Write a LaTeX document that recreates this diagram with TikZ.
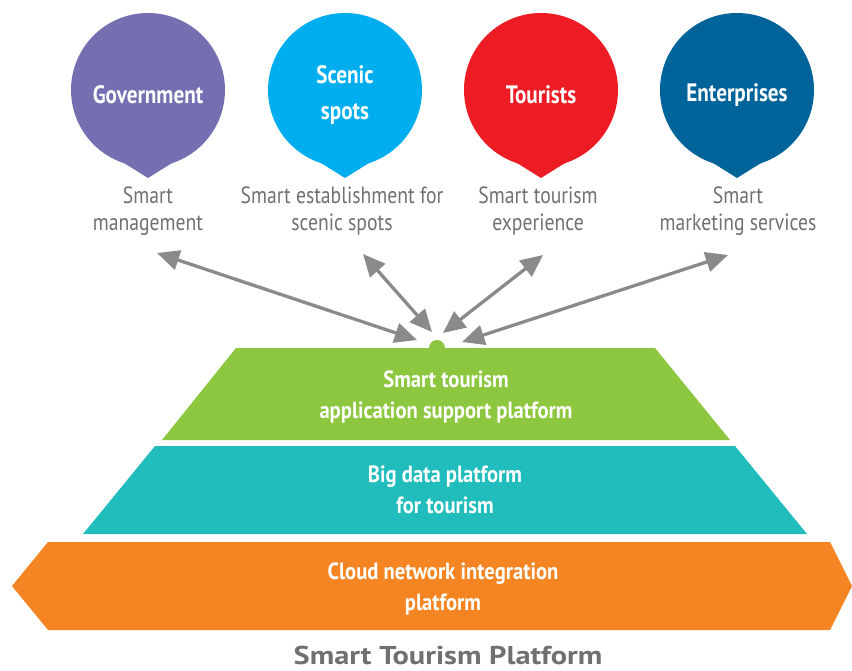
\documentclass[tikz,border=0pt]{standalone}
\usepackage{fontspec}
\setmainfont{PT Sans}
\newfontfamily\condfont[FakeStretch=0.84]{PT Sans}
\newfontfamily\layerfont[FakeStretch=0.88]{PT Sans}
\newfontfamily\widefont[FakeStretch=1.18]{PT Sans}
\usetikzlibrary{arrows.meta}

\definecolor{govpurple}{HTML}{736FB0}
\definecolor{scenicblue}{HTML}{00AEEF}
\definecolor{touristred}{HTML}{ED1C24}
\definecolor{entblue}{HTML}{00649A}
\definecolor{appgreen}{HTML}{8DC63F}
\definecolor{datateal}{HTML}{21BCBC}
\definecolor{cloudorange}{HTML}{F58523}
\definecolor{textgray}{HTML}{707070}
\definecolor{arrowgray}{HTML}{8A8A8A}

\tikzset{
  pintext/.style={text=white, font=\condfont\bfseries\fontsize{21.5}{30}\selectfont, align=center},
  roletext/.style={text=textgray, font=\condfont\fontsize{20}{23}\selectfont, align=center},
  layertext/.style={text=white, font=\layerfont\bfseries\fontsize{20}{26}\selectfont, align=center},
  link/.style={draw=arrowgray, line width=2.8pt, {Triangle[length=19pt,width=17pt]}-{Triangle[length=19pt,width=17pt]}}
}

\begin{document}
\begin{tikzpicture}[x=0.03cm, y=-0.03cm]
\useasboundingbox (0,0) rectangle (852,670);

% pins
\fill[govpurple] (148,90) circle (77);
\fill[govpurple] (148,178) -- (196,148) -- (100,148) -- cycle;
\fill[scenicblue] (345,90) circle (77);
\fill[scenicblue] (345,178) -- (393,148) -- (297,148) -- cycle;
\fill[touristred] (541,90) circle (77);
\fill[touristred] (541,178) -- (589,148) -- (493,148) -- cycle;
\fill[entblue] (737,90) circle (77);
\fill[entblue] (737,178) -- (785,148) -- (689,148) -- cycle;

\node[pintext] (gov) at (148,95) {Government};
\node[pintext] (scenic) at (345,95) {Scenic\\spots};
\node[pintext] (tourist) at (541,95) {Tourists};
\node[pintext] (ent) at (737,95) {Enterprises};

\node[roletext] (govrole) at (148,211) {Smart\\management};
\node[roletext] (scenicrole) at (342,211) {Smart establishment for\\scenic spots};
\node[roletext] (touristrole) at (538,211) {Smart tourism\\experience};
\node[roletext] (entrole) at (738,211) {Smart\\marketing services};

% layers
\fill[appgreen] (236,348) -- (655,348) -- (730,440) -- (162,440) -- cycle;
\fill[datateal] (155,446) -- (735,446) -- (807,534) -- (83,534) -- cycle;
\fill[cloudorange] (48,542) -- (830,542) -- (852,586) -- (830,630) -- (48,630) -- (12,586) -- cycle;
\fill[appgreen] (437,348) circle (8);

\node[layertext] (app) at (446,397) {Smart tourism\\application support platform};
\node[layertext] (data) at (445,490) {Big data platform\\for tourism};
\node[layertext] (cloud) at (443,589) {Cloud network integration\\platform};

% links
\coordinate (govend) at (157,253);
\coordinate (scenicend) at (363,254);
\coordinate (touristend) at (543,255);
\coordinate (entend) at (728,255);
\coordinate (hub1) at (417,340);
\coordinate (hub2) at (432,332);
\coordinate (hub3) at (443,333);
\coordinate (hub4) at (462,342);
\draw[link] (govend) -- (hub1);
\draw[link] (scenicend) -- (hub2);
\draw[link] (touristend) -- (hub3);
\draw[link] (entend) -- (hub4);

\node[text=textgray, font=\widefont\bfseries\fontsize{22}{26}\selectfont, anchor=base, inner sep=0pt] (title) at (448,664) {Smart Tourism Platform};
\end{tikzpicture}
\end{document}
